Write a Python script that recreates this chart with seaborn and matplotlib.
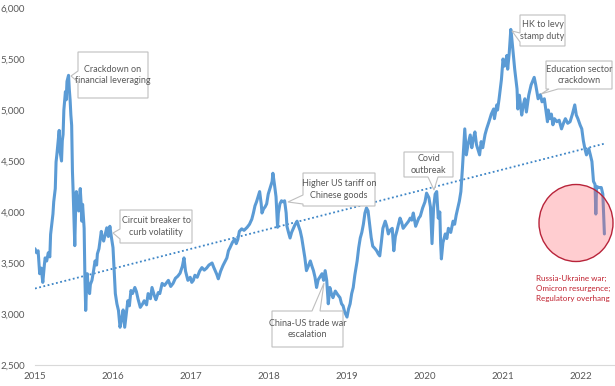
import pandas as pd
import matplotlib.pyplot as plt
import seaborn as sns
from matplotlib.patches import Polygon, Ellipse

sns.set_theme(style="white")
plt.rcParams["font.family"] = ["Lato", "DejaVu Sans"]

# CSI 300 index level (x as decimal year)
dates = [
    2015.00, 2015.02, 2015.04, 2015.06, 2015.08, 2015.10, 2015.12, 2015.13, 2015.15, 2015.17,
    2015.19, 2015.20, 2015.23, 2015.24, 2015.26, 2015.27, 2015.28, 2015.30, 2015.31, 2015.32,
    2015.34, 2015.35, 2015.36, 2015.37, 2015.39, 2015.40, 2015.41, 2015.43, 2015.44, 2015.45,
    2015.46, 2015.47, 2015.48, 2015.49, 2015.51, 2015.52, 2015.53, 2015.55, 2015.56, 2015.58,
    2015.59, 2015.60, 2015.61, 2015.63, 2015.64, 2015.65, 2015.66, 2015.67, 2015.68, 2015.70,
    2015.71, 2015.73, 2015.75, 2015.77, 2015.79, 2015.80, 2015.82, 2015.85, 2015.86, 2015.88,
    2015.90, 2015.92, 2015.94, 2015.96, 2015.98,
    2016.00, 2016.02, 2016.03, 2016.05, 2016.07, 2016.09, 2016.11, 2016.13, 2016.15, 2016.17,
    2016.19, 2016.21, 2016.23, 2016.25, 2016.28, 2016.30, 2016.32, 2016.35, 2016.38, 2016.40,
    2016.43, 2016.45, 2016.48, 2016.50, 2016.53, 2016.55, 2016.58, 2016.60, 2016.63, 2016.66,
    2016.69, 2016.71, 2016.74, 2016.77, 2016.80, 2016.83, 2016.86, 2016.89, 2016.91, 2016.93,
    2016.96, 2016.99,
    2017.01, 2017.03, 2017.05, 2017.08, 2017.11, 2017.14, 2017.17, 2017.20, 2017.23, 2017.27,
    2017.29, 2017.31, 2017.33, 2017.35, 2017.38, 2017.41, 2017.44, 2017.46, 2017.48, 2017.50,
    2017.53, 2017.56, 2017.58, 2017.60, 2017.62, 2017.65, 2017.68, 2017.72, 2017.75, 2017.78,
    2017.80, 2017.82, 2017.84, 2017.88, 2017.90, 2017.91, 2017.93, 2017.95, 2017.97, 2017.99,
    2018.02, 2018.04, 2018.05, 2018.07, 2018.09, 2018.11, 2018.12, 2018.14, 2018.16, 2018.18,
    2018.20, 2018.22, 2018.23, 2018.25, 2018.27, 2018.29, 2018.31, 2018.33, 2018.36, 2018.38,
    2018.40, 2018.42, 2018.44, 2018.46, 2018.48, 2018.51, 2018.53, 2018.55, 2018.57, 2018.59,
    2018.61, 2018.63, 2018.66, 2018.68, 2018.70, 2018.72, 2018.74, 2018.76, 2018.78, 2018.80,
    2018.82, 2018.85, 2018.88, 2018.91, 2018.93, 2018.95, 2018.97,
    2019.00, 2019.02, 2019.04, 2019.06, 2019.08, 2019.10, 2019.13, 2019.15, 2019.17, 2019.19,
    2019.21, 2019.23, 2019.25, 2019.27, 2019.29, 2019.31, 2019.33, 2019.36, 2019.38, 2019.40,
    2019.42, 2019.44, 2019.46, 2019.49, 2019.51, 2019.53, 2019.55, 2019.58, 2019.60, 2019.62,
    2019.64, 2019.66, 2019.68, 2019.70, 2019.72, 2019.75, 2019.77, 2019.79, 2019.81, 2019.83,
    2019.85, 2019.88, 2019.90, 2019.92, 2019.94, 2019.97,
    2020.00, 2020.02, 2020.05, 2020.07, 2020.09, 2020.11, 2020.13, 2020.15, 2020.17, 2020.19,
    2020.20, 2020.21, 2020.23, 2020.26, 2020.28, 2020.30, 2020.33, 2020.36, 2020.38, 2020.40,
    2020.42, 2020.44, 2020.46, 2020.48, 2020.50, 2020.51, 2020.53, 2020.55, 2020.58, 2020.60,
    2020.62, 2020.64, 2020.66, 2020.70, 2020.72, 2020.74, 2020.77, 2020.79, 2020.82, 2020.85,
    2020.88, 2020.89, 2020.92, 2020.93, 2020.95, 2020.98,
    2021.00, 2021.02, 2021.05, 2021.06, 2021.08, 2021.10, 2021.11, 2021.13, 2021.15, 2021.18,
    2021.19, 2021.21, 2021.24, 2021.26, 2021.28, 2021.30, 2021.33, 2021.36, 2021.40, 2021.42,
    2021.45, 2021.48, 2021.50, 2021.53, 2021.55, 2021.57, 2021.58, 2021.60, 2021.62, 2021.64,
    2021.66, 2021.69, 2021.72, 2021.75, 2021.78, 2021.80, 2021.83, 2021.86, 2021.89, 2021.92,
    2021.94, 2021.96, 2021.99,
    2022.01, 2022.03, 2022.05, 2022.07, 2022.10, 2022.12, 2022.14, 2022.16, 2022.18, 2022.19,
    2022.20, 2022.23, 2022.26, 2022.28, 2022.30,
]
close = [
    3640, 3600, 3620, 3395, 3450, 3310, 3480, 3550, 3520, 3600,
    3560, 3780, 3980, 4100, 4230, 4490, 4560, 4720, 4800, 4600,
    4500, 4700, 4760, 5000, 5180, 5100, 5280, 5340, 5200, 5100,
    4950, 4850, 4400, 4175, 3670, 4000, 4200, 4050, 4010, 4230,
    4100, 3910, 4075, 3840, 3350, 3035, 3250, 3395, 3280, 3200,
    3290, 3330, 3420, 3520, 3480, 3590, 3640, 3810, 3760, 3715,
    3780, 3845, 3760, 3860, 3750,
    3650, 3350, 3200, 3100, 3035, 2870, 2950, 3040, 2870, 3000,
    3130, 3080, 3230, 3200, 3260, 3220, 3150, 3065, 3100, 3130,
    3090, 3200, 3150, 3260, 3180, 3140, 3210, 3200, 3300, 3280,
    3310, 3330, 3270, 3300, 3350, 3370, 3400, 3470, 3550, 3420,
    3330, 3360,
    3310, 3330, 3380, 3360, 3420, 3455, 3430, 3450, 3480, 3500,
    3460, 3425, 3390, 3345, 3420, 3475, 3520, 3550, 3620, 3650,
    3700, 3735, 3690, 3730, 3810, 3835, 3820, 3850, 3880, 3930,
    3990, 4060, 4100, 4200, 4080, 3990, 4030, 4050, 4080, 4175,
    4250, 4300, 4380, 4270, 4150, 3850, 3990, 4080, 4110, 4100,
    4110, 3990, 3860, 3800, 3745, 3800, 3835, 3870, 3910, 3860,
    3815, 3745, 3650, 3550, 3425, 3480, 3520, 3470, 3425, 3360,
    3260, 3335, 3370, 3395, 3330, 3425, 3330, 3100, 3260, 3200,
    3160, 3225, 3190, 3160, 3100, 3080, 3020,
    2970, 3050, 3100, 3200, 3260, 3380, 3520, 3650, 3745, 3800,
    3880, 3990, 4040, 4010, 3880, 3750, 3665, 3640, 3620, 3590,
    3570, 3700, 3840, 3910, 3860, 3785, 3820, 3840, 3620, 3760,
    3815, 3880, 3940, 3900, 3840, 3870, 3890, 3910, 3940, 3920,
    3990, 3860, 3900, 3940, 3960, 4040,
    4100, 4185, 4140, 4050, 3690, 4040, 4175, 4200, 3940, 4000,
    3700, 3540, 3700, 3785, 3740, 3840, 3800, 3910, 3880, 3970,
    4040, 4105, 4200, 4430, 4690, 4815, 4560, 4655, 4755, 4630,
    4720, 4785, 4660, 4560, 4690, 4630, 4760, 4815, 4885, 4960,
    5010, 4915, 5050, 5000, 5110, 5300,
    5500, 5430, 5535, 5400, 5560, 5790, 5725, 5565, 5400, 5205,
    5010, 5145, 4950, 5050, 5110, 4980, 5145, 5245, 5320, 5245,
    5110, 5150, 5080, 5110, 5000, 4885, 5000, 4915, 4960, 4855,
    4915, 4885, 4900, 4815, 4880, 4915, 4870, 4885, 4960, 5050,
    4950, 4915, 4850,
    4815, 4700, 4620, 4560, 4620, 4560, 4495, 4300, 4270, 3980,
    4250, 4240, 4240, 4175, 3785,
]

# linear trendline end points
trend_years = [2015.0, 2022.3]
trend_level = [3250, 4670]

year_ticks = [2015, 2016, 2017, 2018, 2019, 2020, 2021, 2022]
level_ticks = [2500, 3000, 3500, 4000, 4500, 5000, 5500, 6000]

W, H = 615, 386
GREY_TXT = "#595959"
LINE_BLUE = "#5b9bd5"

# callout text, box (x0, y0, x1, y1) in image pixels, side of the pointer, pointer base, tip
callouts = [
    ("Crackdown on\nfinancial leveraging", (78, 52, 148, 98), "left", (71, 82), (71, 76)),
    ("Circuit breaker to\ncurb volatility", (120, 210, 192, 243), "left", (229, 239), (113, 233)),
    ("Higher US tariff on\nChinese goods", (303, 173, 375, 206), "left", (195, 204), (288, 202)),
    ("China-US trade war\nescalation", (272, 311, 343, 347), "top", (312, 320), (324, 283)),
    ("Covid\noutbreak", (404, 152, 453, 177), "bottom", (428, 438), (434, 190)),
    ("HK to levy\nstamp duty", (520, 15, 565, 46), "left", (33, 42), (512, 31)),
    ("Education sector\ncrackdown", (546, 61, 612, 89), "bottom", (549, 558), (541, 94)),
]


def to_fig(x, y):
    return (x / W, 1 - y / H)


def callout_shape(box, side, base, tip):
    x0, y0, x1, y1 = box
    a, b = base
    if side == "top":
        pts = [(x0, y0), (a, y0), tip, (b, y0), (x1, y0), (x1, y1), (x0, y1)]
    elif side == "bottom":
        pts = [(x0, y0), (x1, y0), (x1, y1), (b, y1), tip, (a, y1), (x0, y1)]
    else:  # left
        pts = [(x0, y0), (x1, y0), (x1, y1), (x0, y1), (x0, b), tip, (x0, a)]
    return [to_fig(px, py) for px, py in pts]


df = pd.DataFrame({"year": dates, "close": close})
trend = pd.DataFrame({"year": trend_years, "close": trend_level})

fig = plt.figure(figsize=(W / 100, H / 100), dpi=100)
ax = fig.add_axes([35 / W, 21 / H, 580 / W, 357 / H])

sns.lineplot(data=trend, x="year", y="close", ax=ax, color="#3d85c6",
             lw=1.3, ls=(0, (1, 1.4)))
sns.lineplot(data=df, x="year", y="close", ax=ax, color=LINE_BLUE, lw=2.2)

ax.set_xlim(2015, 2015 + 580 / 78)
ax.set_ylim(2500, 6000)
ax.set_xticks(year_ticks)
ax.set_xticklabels([str(y) for y in year_ticks])
ax.set_yticks(level_ticks)
ax.set_yticklabels([f"{v:,}" for v in level_ticks])
ax.tick_params(axis="both", length=0, labelsize=7, colors=GREY_TXT)
ax.tick_params(axis="y", pad=7)
ax.tick_params(axis="x", pad=5)
ax.set_xlabel("")
ax.set_ylabel("")
for s in ["top", "right", "left"]:
    ax.spines[s].set_visible(False)
ax.spines["bottom"].set_color("#d9d9d9")
ax.spines["bottom"].set_linewidth(0.8)

for text, box, side, base, tip in callouts:
    shape = Polygon(callout_shape(box, side, base, tip), closed=True,
                    transform=fig.transFigure, facecolor="white",
                    edgecolor="#bfbfbf", lw=0.8, zorder=5)
    fig.patches.append(shape)
    cx, cy = to_fig((box[0] + box[2]) / 2, (box[1] + box[3]) / 2)
    fig.text(cx, cy, text, ha="center", va="center", fontsize=6.5,
             color=GREY_TXT, linespacing=1.3, zorder=6)

# red highlight over the 2022 sell-off
cxy = to_fig(576, 223)
fig.patches.append(Ellipse(cxy, 74 / W, 77 / H, transform=fig.transFigure,
                           facecolor="#ff5a64", alpha=0.3, lw=0, zorder=7))
fig.patches.append(Ellipse(cxy, 74 / W, 77 / H, transform=fig.transFigure,
                           facecolor="none", edgecolor="#b8243a", lw=1, zorder=7))
tx, ty = to_fig(536, 275)
fig.text(tx, ty, "Russia-Ukraine war;\nOmicron resurgence;\nRegulatory overhang",
         ha="left", va="top", fontsize=5.8, color="#c0202e", linespacing=1.45, zorder=8)

fig.savefig("out.png", dpi=100)
